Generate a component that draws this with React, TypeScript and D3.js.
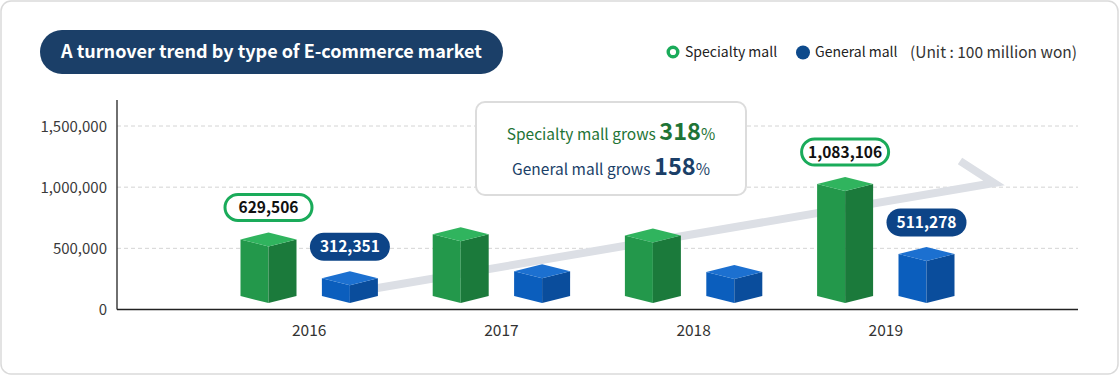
import React from 'react';
import * as d3 from 'd3';

const years = ['2016', '2017', '2018', '2019'];
const specialtyMall = [629506, 672000, 663000, 1083106];
const generalMall = [312351, 369000, 363000, 511278];
const labeledYears = ['2016', '2019'];
const yTicks = [0, 500000, 1000000, 1500000];
const titleText = 'A turnover trend by type of E-commerce market';
const legendItems = ['Specialty mall', 'General mall'];
const unitText = '(Unit : 100 million won)';
const growth = [
  { label: 'Specialty mall grows ', value: '318' },
  { label: 'General mall grows ', value: '158' },
];

const W = 1120;
const H = 376;
const FONT = '"Noto Sans CJK KR", "Noto Sans", sans-serif';

const GREEN = { top: '#30b45e', left: '#23984b', right: '#1b7a3b' };
const BLUE = { top: '#1c70d0', left: '#0b5ebd', right: '#0a4d9c' };

function boxFaces(cx: number, top: number, bot: number, hw: number, dy: number) {
  const t = `M${cx},${top}L${cx + hw},${top + dy}L${cx},${top + 2 * dy}L${cx - hw},${top + dy}Z`;
  const l = `M${cx - hw},${top + dy}L${cx},${top + 2 * dy}L${cx},${bot}L${cx - hw},${bot - dy}Z`;
  const r = `M${cx},${top + 2 * dy}L${cx + hw},${top + dy}L${cx + hw},${bot - dy}L${cx},${bot}Z`;
  return { t, l, r };
}

export default function App() {
  const plotLeft = 117;
  const plotRight = 1078;
  const y = d3.scaleLinear().domain([0, 1500000]).range([309.5, 126]);
  const x = d3.scalePoint<string>().domain(years).range([plotLeft, plotRight]).padding(1);
  const fmt = d3.format(',');
  const barOffset = 40.7;
  const hw = 28;
  const dy = 7;
  const base = y(0) - 6.5;

  const bars = years.flatMap((yr, i) => [
    { yr, v: specialtyMall[i], cx: (x(yr) as number) - barOffset, c: GREEN, kind: 'g' },
    { yr, v: generalMall[i], cx: (x(yr) as number) + barOffset, c: BLUE, kind: 'b' },
  ]);

  return (
    <svg width={W} height={H} style={{ position: 'absolute', left: 0, top: 0, fontFamily: FONT }}>
      <rect x={1} y={1} width={W - 3} height={H - 3} rx={10} fill="#fff" stroke="#dadada" strokeWidth={1.5} />

      {/* title */}
      <rect x={40} y={30} width={463} height={44} rx={22} fill="#1b3f68" />
      <text x={271.5} y={58} textAnchor="middle" fill="#fff" fontSize={18} fontWeight={700}>
        {titleText}
      </text>

      {/* legend */}
      <circle cx={673} cy={52} r={4.8} fill="#fff" stroke="#1aab5a" strokeWidth={3.4} />
      <text x={685} y={57} fontSize={14} fill="#222">{legendItems[0]}</text>
      <circle cx={803} cy={52.5} r={7} fill="#0d4a8c" />
      <text x={815} y={57} fontSize={14} fill="#222">{legendItems[1]}</text>
      <text x={910} y={57.5} fontSize={15.5} fill="#333">{unitText}</text>

      {/* grid */}
      {yTicks.filter((t) => t > 0).map((t) => (
        <line key={t} x1={plotLeft} x2={plotRight} y1={y(t)} y2={y(t)} stroke="#d4d4d4" strokeDasharray="4 3" />
      ))}
      {yTicks.map((t) => (
        <text key={'l' + t} x={107} y={y(t) + 5.5} textAnchor="end" fontSize={15} fill="#3a3a3a">
          {fmt(t)}
        </text>
      ))}

      {/* arrow */}
      <path d="M360,291L994,183L960,161" fill="none" stroke="#dcdfe5" strokeWidth={8} strokeLinejoin="miter" />

      {/* axes */}
      <line x1={plotLeft} x2={plotLeft} y1={100} y2={y(0)} stroke="#222" strokeWidth={1.3} />
      <line x1={plotLeft} x2={plotRight} y1={y(0)} y2={y(0)} stroke="#222" strokeWidth={1.3} />
      {years.map((yr) => (
        <text key={yr} x={x(yr)} y={335.5} textAnchor="middle" fontSize={15.5} fill="#333">
          {yr}
        </text>
      ))}

      {/* bars */}
      {bars.map((b, i) => {
        const f = boxFaces(b.cx, y(b.v), base, hw, dy);
        return (
          <g key={i}>
            <path d={f.l} fill={b.c.left} />
            <path d={f.r} fill={b.c.right} />
            <path d={f.t} fill={b.c.top} />
          </g>
        );
      })}

      {/* value labels */}
      {bars
        .filter((b) => labeledYears.includes(b.yr))
        .map((b, i) => {
          const isG = b.kind === 'g';
          const w = isG ? 87 : 80;
          const h = isG ? 26 : 28;
          const cy = y(b.v) - (isG ? 25 : 24.5);
          return (
            <g key={'p' + i}>
              <rect
                x={b.cx - w / 2}
                y={cy - h / 2}
                width={w}
                height={h}
                rx={h / 2}
                fill={isG ? '#fff' : '#0d4487'}
                stroke={isG ? '#1aab5a' : 'none'}
                strokeWidth={3}
              />
              <text x={b.cx} y={cy + 5.5} textAnchor="middle" fontSize={15.5} fontWeight={700} fill={isG ? '#111' : '#fff'}>
                {fmt(b.v)}
              </text>
            </g>
          );
        })}

      {/* annotation */}
      <rect x={476} y={102} width={270} height={93} rx={9} fill="#fff" stroke="#dcdcdc" strokeWidth={2} />
      {growth.map((g, i) => (
        <text key={g.label} x={611} y={140 + i * 35} textAnchor="middle" fill={i === 0 ? '#1f7436' : '#1b3f68'} fontSize={15.5}>
          {g.label}
          <tspan fontSize={23.5} fontWeight={700}>{g.value}</tspan>
          <tspan fontSize={15.5}>%</tspan>
        </text>
      ))}
    </svg>
  );
}
